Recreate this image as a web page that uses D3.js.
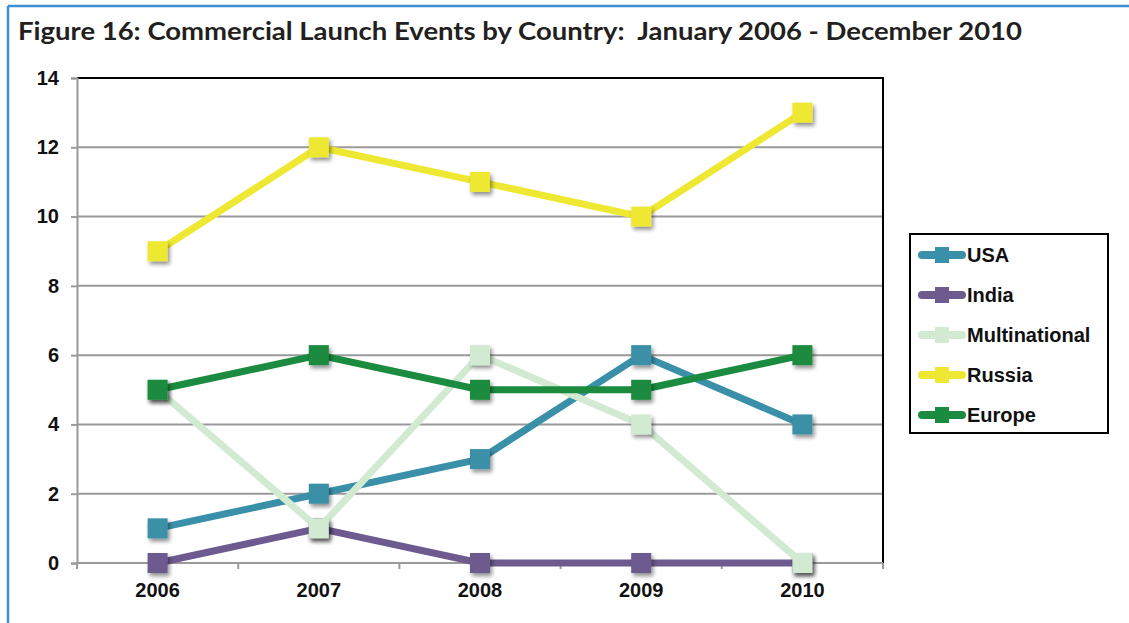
<!DOCTYPE html>
<html>
<head>
<meta charset="utf-8">
<script src="https://cdn.jsdelivr.net/npm/d3@7/dist/d3.min.js"></script>
<style>
  html, body { margin: 0; padding: 0; background: #fff; }
  svg { display: block; }
</style>
</head>
<body>
<svg id="chart" width="1129" height="623"></svg>
<script>
// Commercial launch events per year, by launching country
const years = ["2006", "2007", "2008", "2009", "2010"];
const seriesNames = ["USA", "India", "Multinational", "Russia", "Europe"];
const usa = [1, 2, 3, 6, 4];
const india = [0, 1, 0, 0, 0];
const multinational = [5, 1, 6, 4, 0];
const russia = [9, 12, 11, 10, 13];
const europe = [5, 6, 5, 5, 6];
const yTicks = [0, 2, 4, 6, 8, 10, 12, 14];
const colors = ["#3a90a8", "#6d5a8f", "#d3ead2", "#efe833", "#1b8b3f"];
const titleText = "Figure 16: Commercial Launch Events by Country:  January 2006 - December 2010";

const seriesValues = [usa, india, multinational, russia, europe];
const series = seriesNames.map((name, i) => ({ name, values: seriesValues[i], color: colors[i] }));

const labelFont = "'Liberation Sans', Arial, sans-serif";
const svg = d3.select("#chart");

// Frame: blue rule along top and left edges
svg.append("line").attr("x1", 8).attr("x2", 1129).attr("y1", 6).attr("y2", 6)
  .attr("stroke", "#3d8fd5").attr("stroke-width", 2.5);
svg.append("line").attr("x1", 8).attr("x2", 8).attr("y1", 6).attr("y2", 623)
  .attr("stroke", "#3d8fd5").attr("stroke-width", 2.5);

svg.append("text")
  .attr("x", 18).attr("y", 40)
  .attr("font-family", "'Lato', 'Open Sans', sans-serif")
  .attr("font-weight", 700)
  .attr("font-size", 24.5)
  .attr("fill", "#231f20")
  .style("white-space", "pre")
  .attr("textLength", 1004)
  .attr("lengthAdjust", "spacingAndGlyphs")
  .text(titleText);

const plotLeft = 77, plotRight = 883, plotTop = 78, plotBottom = 563;

const x = d3.scaleBand().domain(years).range([plotLeft, plotRight]);
const y = d3.scaleLinear().domain([0, 14]).range([plotBottom, plotTop]);

const shadow = svg.append("defs").append("filter")
  .attr("id", "shadow").attr("x", "-40%").attr("y", "-40%").attr("width", "180%").attr("height", "180%");
shadow.append("feGaussianBlur").attr("in", "SourceAlpha").attr("stdDeviation", 2).attr("result", "b");
shadow.append("feOffset").attr("in", "b").attr("dx", 1.5).attr("dy", 3).attr("result", "o");
shadow.append("feComponentTransfer").attr("in", "o").attr("result", "s")
  .append("feFuncA").attr("type", "linear").attr("slope", 0.45);
const merge = shadow.append("feMerge");
merge.append("feMergeNode").attr("in", "s");
merge.append("feMergeNode").attr("in", "SourceGraphic");

// Horizontal gridlines
svg.append("g").selectAll("line")
  .data(yTicks.filter(d => d > 0 && d < 14))
  .join("line")
  .attr("x1", plotLeft).attr("x2", plotRight)
  .attr("y1", d => y(d)).attr("y2", d => y(d))
  .attr("stroke", "#9a9a9a").attr("stroke-width", 2);

// Plot border: black top and right
svg.append("line").attr("x1", plotLeft).attr("x2", plotRight + 1).attr("y1", plotTop).attr("y2", plotTop)
  .attr("stroke", "#000").attr("stroke-width", 2);
svg.append("line").attr("x1", plotRight).attr("x2", plotRight).attr("y1", plotTop).attr("y2", plotBottom)
  .attr("stroke", "#000").attr("stroke-width", 2);

// Y axis
const yAxis = svg.append("g")
  .attr("transform", `translate(${plotLeft},0)`)
  .call(d3.axisLeft(y).tickValues(yTicks).tickSize(6).tickPadding(12));
yAxis.select(".domain").attr("stroke", "#9a9a9a").attr("stroke-width", 2);
yAxis.selectAll(".tick line").attr("stroke", "#9a9a9a").attr("stroke-width", 2);
yAxis.selectAll("text")
  .attr("font-family", labelFont)
  .attr("font-weight", 700).attr("font-size", 20).attr("fill", "#111");

// X axis with ticks between categories
const xAxis = svg.append("g").attr("transform", `translate(0,${plotBottom})`);
xAxis.append("line").attr("x1", plotLeft).attr("x2", plotRight).attr("y1", 0).attr("y2", 0)
  .attr("stroke", "#9a9a9a").attr("stroke-width", 2);
const boundaries = years.map(d => x(d)).concat([x(years[years.length - 1]) + x.bandwidth()]);
xAxis.selectAll("line.tk").data(boundaries).join("line").attr("class", "tk")
  .attr("x1", d => d).attr("x2", d => d).attr("y1", 0).attr("y2", 6)
  .attr("stroke", "#9a9a9a").attr("stroke-width", 2);
xAxis.selectAll("text").data(years).join("text")
  .attr("x", d => x(d) + x.bandwidth() / 2).attr("y", 34)
  .attr("text-anchor", "middle")
  .attr("font-family", labelFont)
  .attr("font-weight", 700).attr("font-size", 20).attr("fill", "#111")
  .text(d => d);

const cx = d => x(d) + x.bandwidth() / 2;
const line = d3.line().x((v, i) => cx(years[i])).y(v => y(v));
const marker = 20;

// Each series: line then square markers
series.forEach(s => {
  const g = svg.append("g");
  g.append("path")
    .attr("d", line(s.values))
    .attr("fill", "none").attr("stroke", s.color)
    .attr("stroke-width", 7).attr("stroke-linejoin", "round");
  g.selectAll("rect").data(s.values).join("rect")
    .attr("x", (v, i) => cx(years[i]) - marker / 2)
    .attr("y", v => y(v) - marker / 2)
    .attr("width", marker).attr("height", marker)
    .attr("fill", s.color)
    .attr("filter", "url(#shadow)");
});

// Legend
const lg = svg.append("g");
lg.append("rect").attr("x", 910).attr("y", 234).attr("width", 198).attr("height", 199)
  .attr("fill", "#fff").attr("stroke", "#000").attr("stroke-width", 2);
const item = lg.selectAll("g.item").data(series).join("g").attr("class", "item")
  .attr("transform", (d, i) => `translate(0,${255 + i * 40})`);
item.append("line").attr("x1", 922).attr("x2", 962).attr("y1", 0).attr("y2", 0)
  .attr("stroke", d => d.color).attr("stroke-width", 8).attr("stroke-linecap", "round");
item.append("rect").attr("x", 935).attr("y", -8).attr("width", 14).attr("height", 16)
  .attr("fill", d => d.color);
item.append("text").attr("x", 967).attr("y", 7)
  .attr("font-family", labelFont)
  .attr("font-weight", 700).attr("font-size", 20).attr("fill", "#111")
  .text(d => d.name);
</script>
</body>
</html>
